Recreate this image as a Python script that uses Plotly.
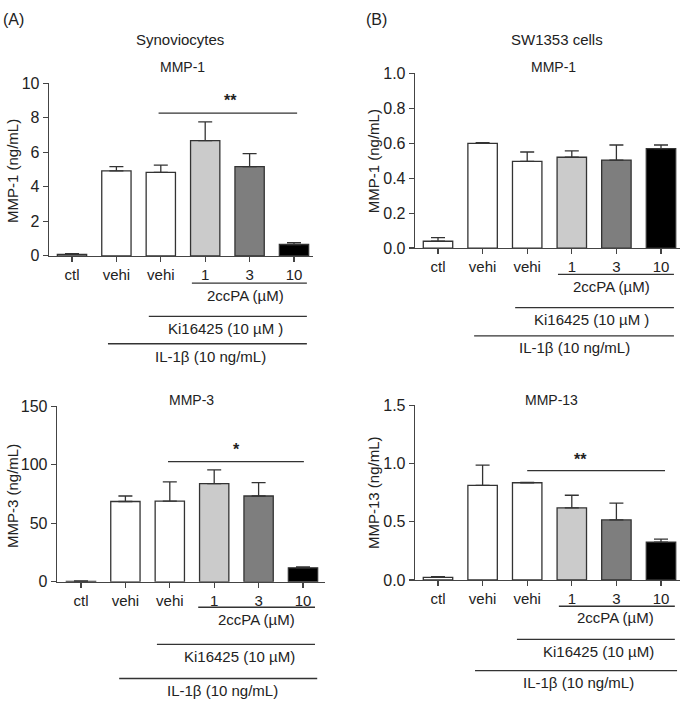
import plotly.graph_objects as go

W, H = 685, 707

categories = ["ctl", "vehi", "vehi", "1", "3", "10"]
bar_colors = ["#ffffff", "#ffffff", "#ffffff", "#cbcbcb", "#7e7e7e", "#000000"]

# Synoviocytes MMP-1 (ng/mL)
a1_mean = [0.09, 4.92, 4.83, 6.67, 5.17, 0.66]
a1_sem = [0.04, 0.25, 0.43, 1.09, 0.75, 0.11]
# Synoviocytes MMP-3 (ng/mL)
a3_mean = [0.5, 68.6, 68.9, 83.9, 73.3, 12.0]
a3_sem = [0.3, 4.7, 16.4, 11.7, 11.5, 0.8]
# SW1353 MMP-1 (ng/mL)
b1_mean = [0.039, 0.599, 0.496, 0.520, 0.504, 0.569]
b1_sem = [0.021, 0.004, 0.054, 0.036, 0.086, 0.021]
# SW1353 MMP-13 (ng/mL)
b13_mean = [0.022, 0.811, 0.834, 0.618, 0.515, 0.325]
b13_sem = [0.006, 0.174, 0.003, 0.109, 0.145, 0.025]

FONT = "Arial, Liberation Sans, sans-serif"
TXT = "#222222"
AX = "#444444"

def px(x):
    return x / W

def py(y):
    return 1 - y / H

panels = [
    dict(name="a1", mean=a1_mean, sem=a1_sem, x0=49, x1=313, yt=77, yb=254, c0=72, sp=44.4,
         yr=[0, 10], dt=2, fmt="", ytitle="MMP-1 (ng/mL)", yt_x=13, yt_y=167,
         title="MMP-1", title_x=183, title_y=60,
         sig=("**", 1.95, 5.07, 8.27, 3.56, 9.0),
         groups=[("2ccPA (µM)", 2.70, 5.29, 282, 3.90, 295),
                 ("Ki16425 (10 µM )", 1.73, 5.29, 316, 3.45, 328),
                 ("IL-1β (10 ng/mL)", 0.81, 5.29, 344, 3.13, 357)]),
    dict(name="b1", mean=b1_mean, sem=b1_sem, x0=415, x1=680, yt=67, yb=246, c0=438, sp=44.6,
         yr=[0, 1.0], dt=0.2, fmt=".1f", ytitle="MMP-1 (ng/mL)", yt_x=373, yt_y=157,
         title="MMP-1", title_x=553, title_y=60,
         sig=None,
         groups=[("2ccPA (µM)", 2.69, 5.29, 273, 3.90, 285),
                 ("Ki16425 (10 µM )", 1.73, 5.29, 307, 3.45, 319),
                 ("IL-1β (10 ng/mL)", 0.81, 5.29, 336, 3.05, 348)]),
    dict(name="a3", mean=a3_mean, sem=a3_sem, x0=57, x1=325, yt=408, yb=588, c0=81, sp=44.4,
         yr=[0, 150], dt=50, fmt="", ytitle="MMP-3 (ng/mL)", yt_x=13, yt_y=500,
         title="MMP-3", title_x=191, title_y=402,
         sig=("*", 1.96, 5.02, 102.6, 3.51, 113),
         groups=[("2ccPA (µM)", 2.64, 5.27, 614, 3.96, 627),
                 ("Ki16425 (10 µM)", 1.71, 5.27, 652, 3.58, 664),
                 ("IL-1β (10 ng/mL)", 0.86, 5.32, 687, 3.18, 699)]),
    dict(name="b13", mean=b13_mean, sem=b13_sem, x0=415, x1=680, yt=407, yb=586, c0=438, sp=44.6,
         yr=[0, 1.5], dt=0.5, fmt=".1f", ytitle="MMP-13 (ng/mL)", yt_x=373, yt_y=497,
         title="MMP-13", title_x=551, title_y=402,
         sig=("**", 2.0, 5.09, 0.9375, 3.2, 1.03),
         groups=[("2ccPA (µM)", 2.71, 5.31, 613, 3.99, 625),
                 ("Ki16425 (10 µM)", 1.77, 5.31, 647, 3.59, 659),
                 ("IL-1β (10 ng/mL)", 0.83, 5.36, 679, 3.14, 691)]),
]

fig = go.Figure()
shapes = []
annotations = []
xs = list(range(len(categories)))

for i, p in enumerate(panels):
    k = "" if i == 0 else str(i + 1)
    xa, ya = "x" + k, "y" + k
    fig.add_trace(go.Bar(
        x=xs, y=p["mean"], width=0.66, xaxis=xa, yaxis=ya,
        marker=dict(color=bar_colors, line=dict(color="#333333", width=1.3)),
        error_y=dict(type="data", array=p["sem"], arrayminus=[0] * len(xs), symmetric=False,
                     color="#333333", thickness=1.3, width=7),
        showlegend=False, hoverinfo="skip",
    ))
    xr = [(p["x0"] - p["c0"]) / p["sp"], (p["x1"] - p["c0"]) / p["sp"]]
    ticks = []
    v = p["yr"][0]
    while v <= p["yr"][1] + 1e-9:
        ticks.append(round(v, 4))
        v += p["dt"]
    fig.update_layout(**{
        ("xaxis" + k): dict(domain=[px(p["x0"]), px(p["x1"])], range=xr, anchor=ya,
                            tickvals=xs, ticktext=categories, ticks="outside", ticklen=5,
                            tickwidth=1.2, tickcolor=AX, showline=True, linecolor=AX,
                            linewidth=1.3, showgrid=False, zeroline=False,
                            tickfont=dict(family=FONT, size=15, color=TXT)),
        ("yaxis" + k): dict(domain=[py(p["yb"]), py(p["yt"])], range=p["yr"], anchor=xa,
                            tickvals=ticks, tickformat=p["fmt"], ticks="outside", ticklen=5,
                            tickwidth=1.2, tickcolor=AX, showline=True, linecolor=AX,
                            linewidth=1.3, showgrid=False, zeroline=False,
                            tickfont=dict(family=FONT, size=16, color=TXT)),
    })
    annotations.append(dict(text=p["ytitle"], xref="paper", yref="paper",
                            x=px(p["yt_x"]), y=py(p["yt_y"]), textangle=-90,
                            showarrow=False, xanchor="center", yanchor="middle",
                            font=dict(family=FONT, size=15, color=TXT)))
    annotations.append(dict(text=p["title"], xref="paper", yref="paper",
                            x=px(p["title_x"]), y=py(p["title_y"]), showarrow=False,
                            xanchor="center", yanchor="middle",
                            font=dict(family=FONT, size=14, color=TXT)))
    if p["sig"]:
        s, sx0, sx1, sy, tx, ty = p["sig"]
        shapes.append(dict(type="line", xref=xa, yref=ya, x0=sx0, x1=sx1, y0=sy, y1=sy,
                           line=dict(color="#333333", width=1.3)))
        annotations.append(dict(text="<b>" + s + "</b>", xref=xa, yref=ya, x=tx, y=ty,
                                showarrow=False, xanchor="center", yanchor="middle",
                                font=dict(family=FONT, size=16, color=TXT)))
    for (lbl, gx0, gx1, gy, tx, ty) in p["groups"]:
        shapes.append(dict(type="line", xref=xa, yref="paper", x0=gx0, x1=gx1,
                           y0=py(gy), y1=py(gy), line=dict(color="#333333", width=1.3)))
        annotations.append(dict(text=lbl, xref=xa, yref="paper", x=tx, y=py(ty),
                                showarrow=False, xanchor="center", yanchor="middle",
                                font=dict(family=FONT, size=15, color=TXT)))

for txt, x, y in [("(A)", 13, 12), ("(B)", 376, 12)]:
    annotations.append(dict(text=txt, xref="paper", yref="paper", x=px(x), y=py(y),
                            showarrow=False, xanchor="center", yanchor="middle",
                            font=dict(family=FONT, size=16, color=TXT)))
for txt, x, y in [("Synoviocytes", 180, 32), ("SW1353 cells", 557, 32)]:
    annotations.append(dict(text=txt, xref="paper", yref="paper", x=px(x), y=py(y),
                            showarrow=False, xanchor="center", yanchor="middle",
                            font=dict(family=FONT, size=15, color=TXT)))

fig.update_layout(width=W, height=H, margin=dict(l=0, r=0, t=0, b=0),
                  paper_bgcolor="white", plot_bgcolor="white", bargap=0,
                  shapes=shapes, annotations=annotations)

fig.write_html("out.html", config={"displayModeBar": False, "staticPlot": True},
               post_script="document.body.style.margin='0';document.body.style.overflow='hidden';")
